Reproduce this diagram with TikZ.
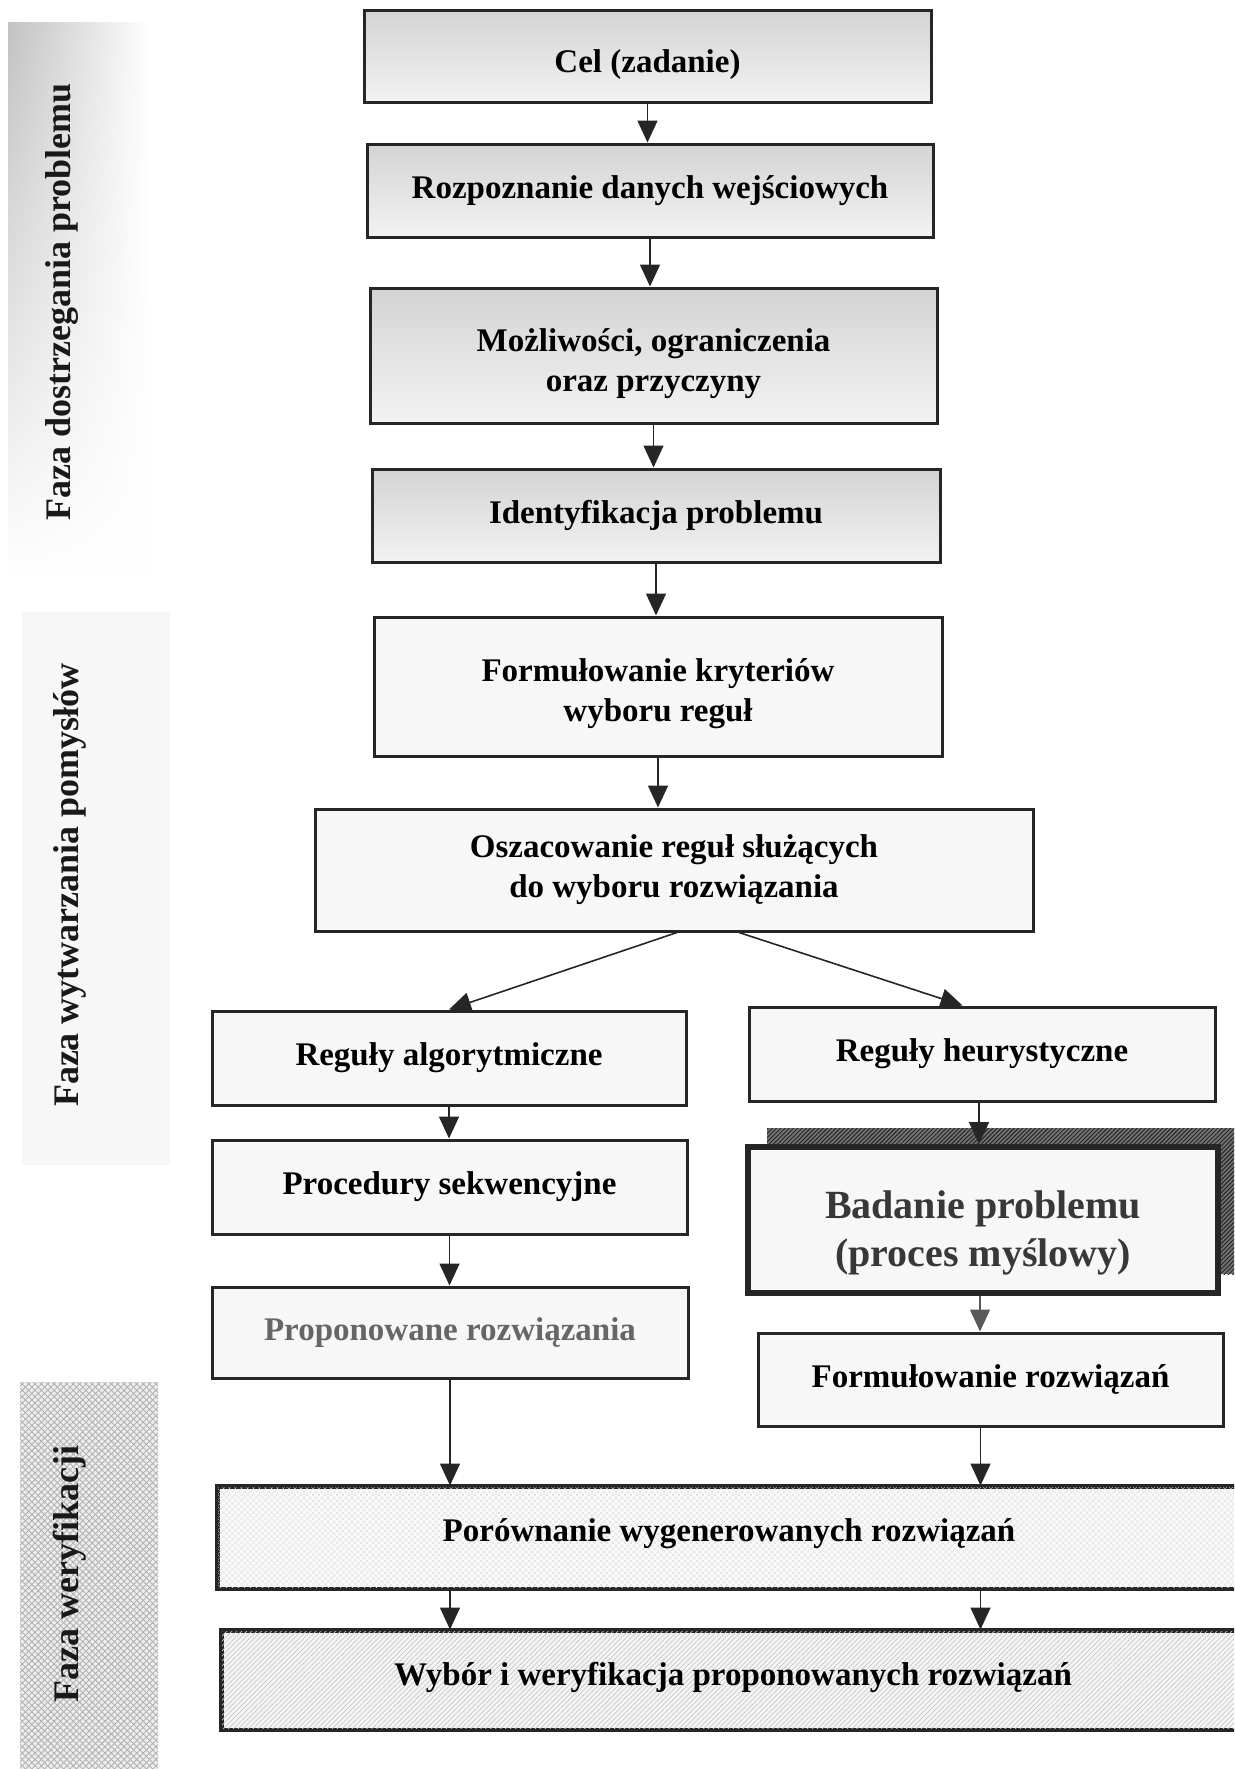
\documentclass[tikz,border=0pt]{standalone}
\usepackage{fontspec}
\setmainfont{Liberation Serif}
\usetikzlibrary{arrows.meta,calc,patterns.meta,fadings}

% vertical fade used for the first phase band
\tikzfading[name=bandfade, top color=transparent!0, middle color=transparent!25, bottom color=transparent!100]

\begin{document}
\begin{tikzpicture}[x=1pt,y=-1pt,
  txt/.style={font=\bfseries\fontsize{33}{40}\selectfont, align=center},
  box/.style={txt, draw=black!85, line width=3pt, fill=white, inner sep=0pt},
  topbox/.style={box, top color=black!17, bottom color=black!5},
  lowtext/.style={label={[txt, yshift=-#1]center:}},
  phase/.style={rotate=90, font=\bfseries\fontsize{36}{40}\selectfont, text=black!90},
  arr/.style={-{Triangle[length=22pt,width=20pt]}, line width=1.6pt, draw=black!85},
]
\useasboundingbox (0,0) rectangle (1234,1769);
\clip (0,0) rectangle (1234,1769);
\fill[white] (0,0) rectangle (1234,1769);

% ---- phase bands ----
\shade[left color=black!24, right color=white, path fading=bandfade] (8,22) rectangle (150,575);
\fill[black!3] (22,612) rectangle (170,1165);
\fill[black!7] (20,1382) rectangle (158,1769);
\fill[pattern={Lines[angle=45,distance=4.5pt,line width=0.9pt]}, pattern color=black!30] (20,1382) rectangle (158,1769);
\fill[pattern={Lines[angle=-45,distance=4.5pt,line width=0.9pt]}, pattern color=black!30] (20,1382) rectangle (158,1769);

\node[phase] (ph1) at (62,302) {Faza dostrzegania problemu};
\node[phase] (ph2) at (70,885) {Faza wytwarzania pomysłów};
\node[phase] (ph3) at (70,1574) {Faza weryfikacji};

% ---- upper chain ----
\node[topbox, minimum width=567pt, minimum height=91pt,
      label={[txt, yshift=-8pt]center:Cel (zadanie)}] (cel) at (647.5,56.5) {};
\node[topbox, minimum width=566pt, minimum height=93pt] (rozp) at (650,190.5) {Rozpoznanie danych wejściowych};
\node[topbox, minimum width=567pt, minimum height=135pt,
      label={[txt, yshift=-8pt]center:Możliwości, ograniczenia\\oraz przyczyny}] (mozl) at (653.5,355.5) {};
\node[topbox, minimum width=568pt, minimum height=93pt] (ident) at (656,515.5) {Identyfikacja problemu};
\node[box, fill=black!3, minimum width=568pt, minimum height=139pt,
      label={[txt, yshift=-7pt]center:Formułowanie kryteriów\\wyboru reguł}] (kryt) at (658,686.5) {};
\node[box, fill=black!3, minimum width=718pt, minimum height=122pt] (osz) at (674,870) {Oszacowanie reguł służących\\do wyboru rozwiązania};

% ---- left branch ----
\node[box, fill=black!3, minimum width=474pt, minimum height=94pt] (alg) at (449,1058) {Reguły algorytmiczne};
\node[box, fill=black!3, minimum width=475pt, minimum height=94pt] (proc) at (449.5,1187) {Procedury sekwencyjne};
\node[box, fill=black!3, minimum width=476pt, minimum height=91pt, text=black!60] (prop) at (450,1332.5) {Proponowane rozwiązania};

% ---- right branch ----
\node[box, fill=black!3, minimum width=466pt, minimum height=94pt] (heur) at (982,1054) {Reguły heurystyczne};
\fill[black!55] (767,1128) rectangle (1240,1274);
\fill[pattern={Lines[angle=45,distance=3pt,line width=1pt]}, pattern color=black!85] (767,1128) rectangle (1240,1274);
\node[box, line width=6pt, fill=black!3, minimum width=470pt, minimum height=146pt,
      label={[font=\bfseries\fontsize{40}{48}\selectfont, align=center, text=black!78, yshift=-13pt]center:Badanie problemu\\(proces myślowy)}] (bad) at (983,1220) {};
\node[box, fill=black!3, minimum width=465pt, minimum height=93pt] (frozw) at (990.5,1379.5) {Formułowanie rozwiązań};

% ---- verification boxes ----
\node[box, fill=black!2, minimum width=1060pt, minimum height=101pt] (por) at (748,1537.5) {};
\fill[pattern={Lines[angle=45,distance=4pt,line width=0.6pt]}, pattern color=black!14] (por.north west) rectangle (por.south east);
\fill[pattern={Lines[angle=-45,distance=4pt,line width=0.6pt]}, pattern color=black!14] (por.north west) rectangle (por.south east);
\draw[draw=black!85, line width=3pt] (por.north west) rectangle (por.south east);
\node[txt] (portxt) at (729,1534) {Porównanie wygenerowanych rozwiązań};

\node[box, fill=black!4, minimum width=1056pt, minimum height=98pt] (wyb) at (750,1680) {};
\fill[pattern={Lines[angle=45,distance=3.5pt,line width=0.7pt]}, pattern color=black!22] (wyb.north west) rectangle (wyb.south east);
\draw[draw=black!85, line width=3pt] (wyb.north west) rectangle (wyb.south east);
\node[txt] (wybtxt) at (733,1677) {Wybór i weryfikacja proponowanych rozwiązań};

% ---- connectors ----
\draw[arr] (cel.south) -- (cel.south |- rozp.north);
\draw[arr] (rozp.south) -- (rozp.south |- mozl.north);
\draw[arr] (mozl.south) -- (mozl.south |- ident.north);
\draw[arr] (ident.south) -- (ident.south |- kryt.north);
\draw[arr] (kryt.south) -- (kryt.south |- osz.north);

\coordinate (oszL) at ($(osz.south)+(3,0)$);
\coordinate (oszR) at ($(osz.south)+(65,0)$);
\draw[arr] (oszL) -- ($(alg.north west)!0.5!(alg.north east)$);
\draw[arr] (oszR) -- ($(heur.north west)+(215,0)$);

\draw[arr] (alg.south) -- (alg.south |- proc.north);
\draw[arr] (proc.south) -- (proc.south |- prop.north);
\draw[arr] (prop.south) -- (prop.south |- por.north);

\draw[arr] ($(heur.south)+(-3,0)$) -- ($(heur.south |- bad.north)+(-3,0)$);
\draw[arr, draw=black!65] ($(bad.south)+(-3,0)$) -- ($(bad.south |- frozw.north)+(-3,0)$);
\draw[arr] ($(frozw.south)+(-10,0)$) -- ($(frozw.south |- por.north)+(-10,0)$);

\draw[arr] (prop.south |- por.south) -- (prop.south |- wyb.north);
\draw[arr] ($(frozw.south |- por.south)+(-10,0)$) -- ($(frozw.south |- wyb.north)+(-10,0)$);
\end{tikzpicture}
\end{document}
